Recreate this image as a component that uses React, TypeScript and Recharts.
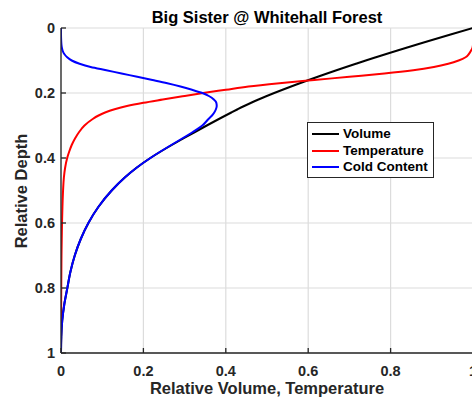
import React from 'react';
import { LineChart, Line, XAxis, YAxis, CartesianGrid, Legend } from 'recharts';

const depth = [0, 0.02, 0.04, 0.05, 0.06, 0.07, 0.08, 0.09, 0.1, 0.11, 0.12, 0.13, 0.14, 0.15, 0.16, 0.17, 0.18, 0.19, 0.2, 0.21, 0.22, 0.23, 0.24, 0.25, 0.26, 0.27, 0.28, 0.3, 0.32, 0.34, 0.36, 0.38, 0.4, 0.43, 0.46, 0.5, 0.55, 0.6, 0.65, 0.7, 0.75, 0.8, 0.85, 0.9, 0.95, 1];
const volume = [1, 0.9456, 0.8924, 0.8662, 0.8403, 0.8147, 0.7894, 0.7644, 0.7397, 0.7157, 0.692, 0.6686, 0.6457, 0.6232, 0.6012, 0.5796, 0.5585, 0.5378, 0.5175, 0.498, 0.4793, 0.4616, 0.4447, 0.4288, 0.4134, 0.3982, 0.3832, 0.3538, 0.3251, 0.2968, 0.2689, 0.2421, 0.2169, 0.1834, 0.1548, 0.123, 0.091, 0.0665, 0.0477, 0.0334, 0.0229, 0.0154, 0.008, 0.003, 0.0007, 0];
const temperature = [1, 1, 1, 1, 0.999, 0.995, 0.99, 0.982, 0.965, 0.94, 0.905, 0.855, 0.785, 0.7, 0.615, 0.53, 0.455, 0.4, 0.345, 0.295, 0.247, 0.2, 0.16, 0.13, 0.107, 0.09, 0.077, 0.057, 0.044, 0.034, 0.026, 0.02, 0.015, 0.01, 0.007, 0.005, 0.0035, 0.0025, 0.0018, 0.0012, 0.0009, 0.0006, 0.0004, 0.0002, 0.0001, 0];
const coldContent = [0, 0, 0.0005, 0.001, 0.002, 0.004, 0.008, 0.015, 0.026, 0.045, 0.072, 0.11, 0.147, 0.185, 0.222, 0.258, 0.29, 0.318, 0.343, 0.36, 0.371, 0.377, 0.378, 0.376, 0.372, 0.366, 0.358, 0.343, 0.32, 0.294, 0.2675, 0.2415, 0.2169, 0.1834, 0.1548, 0.123, 0.091, 0.0665, 0.0477, 0.0334, 0.0229, 0.0154, 0.008, 0.003, 0.0007, 0];

const xTicks = [0, 0.2, 0.4, 0.6, 0.8, 1];
const yTicks = [0, 0.2, 0.4, 0.6, 0.8, 1];

const seriesNames = ['Volume', 'Temperature', 'Cold Content'];
const seriesColors = ['#000000', '#ff0000', '#0000ff'];

const titleText = 'Big Sister @ Whitehall Forest';
const xTitle = 'Relative Volume, Temperature';
const yTitle = 'Relative Depth';

const data = depth.map((d, i) => ({
  depth: d,
  volume: volume[i],
  temperature: temperature[i],
  cold: coldContent[i],
}));

const FONT = '"Liberation Sans", Arial, Helvetica, sans-serif';
const AXIS = '#262626';

const tickStyle = { fontFamily: FONT, fontSize: 14.5, fontWeight: 700, fill: AXIS };

const fmt = (v: number) => String(v);

const LegendBox = () => (
  <div
    style={{
      boxSizing: 'border-box',
      width: 127,
      height: 56,
      border: `1.3px solid ${AXIS}`,
      background: '#fff',
      paddingTop: 3,
      paddingLeft: 4,
      fontFamily: FONT,
      fontWeight: 700,
      fontSize: 13.5,
      color: '#000',
    }}
  >
    {seriesNames.map((n, i) => (
      <div key={n} style={{ display: 'flex', alignItems: 'center', height: 16.5, lineHeight: '16.5px' }}>
        <span style={{ display: 'inline-block', width: 27, height: 2, background: seriesColors[i], marginRight: 4 }} />
        <span>{n}</span>
      </div>
    ))}
  </div>
);

export default function App() {
  return (
    <div style={{ position: 'fixed', left: 0, top: 0, width: 472, height: 398, overflow: 'hidden', background: '#fff' }}>
      <LineChart
        layout="vertical"
        width={480}
        height={398}
        data={data}
        margin={{ top: 28, right: 7, bottom: 0, left: 0 }}
      >
        <CartesianGrid xAxisId="main" yAxisId="main" stroke="#dcdcdc" strokeWidth={1.2} />
        <XAxis
          type="number"
          xAxisId="main"
          domain={[0, 1]}
          ticks={xTicks}
          tickFormatter={fmt}
          height={45}
          tickSize={-5}
          tickMargin={18}
          tick={tickStyle}
          axisLine={{ stroke: AXIS, strokeWidth: 1.3 }}
          tickLine={{ stroke: AXIS, strokeWidth: 1.3 }}
          allowDataOverflow
        />
        <XAxis
          type="number"
          xAxisId="top"
          orientation="top"
          domain={[0, 1]}
          ticks={xTicks}
          height={0}
          tickSize={-5}
          tick={false}
          axisLine={{ stroke: AXIS, strokeWidth: 1.3 }}
          tickLine={{ stroke: AXIS, strokeWidth: 1.3 }}
        />
        <YAxis
          type="number"
          yAxisId="main"
          dataKey="depth"
          domain={[0, 1]}
          ticks={yTicks}
          tickFormatter={fmt}
          width={61}
          tickSize={-5}
          tickMargin={11}
          tick={tickStyle}
          axisLine={{ stroke: AXIS, strokeWidth: 1.3 }}
          tickLine={{ stroke: AXIS, strokeWidth: 1.3 }}
        />
        <YAxis
          type="number"
          yAxisId="right"
          orientation="right"
          dataKey="depth"
          domain={[0, 1]}
          ticks={yTicks}
          width={0}
          tickSize={-5}
          tick={false}
          axisLine={{ stroke: AXIS, strokeWidth: 1.3 }}
          tickLine={{ stroke: AXIS, strokeWidth: 1.3 }}
        />
        <Line xAxisId="main" yAxisId="main" type="monotone" dataKey="volume" stroke={seriesColors[0]} strokeWidth={2} dot={false} isAnimationActive={false} />
        <Line xAxisId="main" yAxisId="main" type="monotone" dataKey="temperature" stroke={seriesColors[1]} strokeWidth={2} dot={false} isAnimationActive={false} />
        <Line xAxisId="main" yAxisId="main" type="monotone" dataKey="cold" stroke={seriesColors[2]} strokeWidth={2} dot={false} isAnimationActive={false} />
        <Legend
          layout="horizontal"
          verticalAlign="middle"
          align="center"
          content={() => <LegendBox />}
          wrapperStyle={{ left: 307, top: 122, width: 127, height: 56 }}
        />
      </LineChart>
      <svg width={472} height={398} style={{ position: 'absolute', left: 0, top: 0, pointerEvents: 'none' }}>
        <text x={267} y={23} textAnchor="middle" fontFamily={FONT} fontWeight={700} fontSize={16.5} fill="#000">
          {titleText}
        </text>
        <text x={267} y={394} textAnchor="middle" fontFamily={FONT} fontWeight={700} fontSize={16.5} fill={AXIS}>
          {xTitle}
        </text>
        <text x={27} y={191} textAnchor="middle" transform="rotate(-90 27 191)" fontFamily={FONT} fontWeight={700} fontSize={16.5} fill={AXIS}>
          {yTitle}
        </text>
      </svg>
    </div>
  );
}
